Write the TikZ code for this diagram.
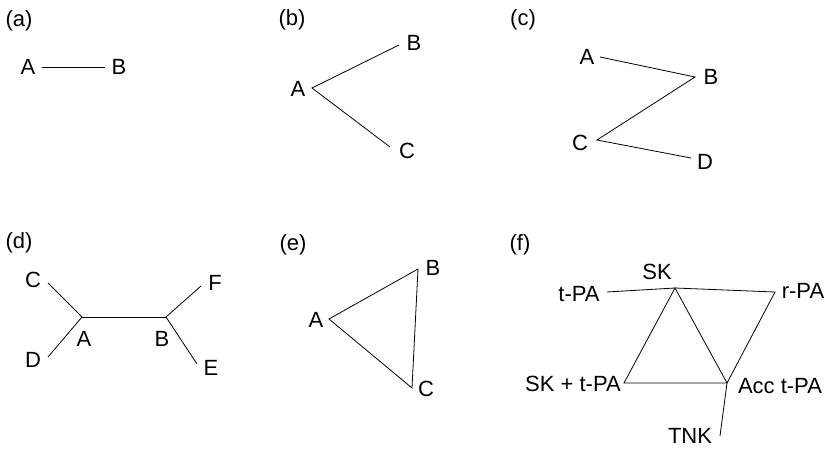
\documentclass[tikz,border=0pt]{standalone}
\usepackage{fontspec}
\setmainfont{Liberation Sans}
\begin{document}
\begin{tikzpicture}[x=0.5pt, y=-0.5pt]
\tikzset{ line width=0.55pt, inner sep=0pt, outer sep=0pt, every node/.style={font=\fontsize{11}{13}\selectfont} }

\useasboundingbox (0,0) rectangle (825,449);

%% (a)
\node (pa) at (19,21) {(a)};
\node (aAl) at (28,67) {A};
\node (aBl) at (119,67) {B};
\draw (42,67) coordinate (aA) -- (105,67) coordinate (aB);

%% (b)
\node (pb) at (292,20) {(b)};
\coordinate (bA) at (312,88);
\coordinate (bB) at (399,45);
\coordinate (bC) at (390,147);
\node (bAl) at (298,89) {A};
\node (bBl) at (414,43) {B};
\node (bCl) at (407,151) {C};
\draw (bB) -- (bA) -- (bC);

%% (c)
\node (pc) at (523,20) {(c)};
\coordinate (cA) at (600,57);
\coordinate (cB) at (695,77);
\coordinate (cC) at (597,140);
\coordinate (cD) at (691,158);
\node (cAl) at (587,57) {A};
\node (cBl) at (711,77) {B};
\node (cCl) at (580,143) {C};
\node (cDl) at (705,162) {D};
\draw (cA) -- (cB) -- (cC) -- (cD);

%% (d)
\node (pd) at (19,243) {(d)};
\coordinate (dA) at (82,317);
\coordinate (dB) at (166,317);
\coordinate (dC) at (48,283);
\coordinate (dD) at (48,357);
\coordinate (dE) at (197,364);
\coordinate (dF) at (201,286);
\node (dAl) at (84,339) {A};
\node (dBl) at (162,339) {B};
\node (dCl) at (33,280) {C};
\node (dDl) at (33,360) {D};
\node (dEl) at (211,368) {E};
\node (dFl) at (215,283) {F};
\draw (dC) -- (dA) -- (dD);
\draw (dA) -- (dB);
\draw (dF) -- (dB) -- (dE);

%% (e)
\node (pe) at (293,245) {(e)};
\coordinate (eA) at (329,319);
\coordinate (eB) at (418,269);
\coordinate (eC) at (412,388);
\node (eAl) at (316,320) {A};
\node (eBl) at (433,268) {B};
\node (eCl) at (426,389) {C};
\draw (eA) -- (eB) -- (eC) -- cycle;

%% (f)
\node (pf) at (520,245) {(f)};
\coordinate (sk) at (675,288);
\coordinate (tpa) at (607,292);
\coordinate (rpa) at (775,292);
\coordinate (sktpa) at (624,383);
\coordinate (acc) at (727,383);
\coordinate (tnk) at (720,436);
\node (skl) at (657,272) {SK};
\node (tpal) at (579,294) {t-PA};
\node (rpal) at (803,291) {r-PA};
\node (sktpal) at (573,384) {SK + t-PA};
\node (accl) at (780,386) {Acc t-PA};
\node (tnkl) at (690,436) {TNK};
\draw (tpa) -- (sk) -- (rpa) -- (acc);
\draw (sk) -- (sktpa) -- (acc) -- cycle;
\draw (acc) -- (tnk);

\end{tikzpicture}
\end{document}
